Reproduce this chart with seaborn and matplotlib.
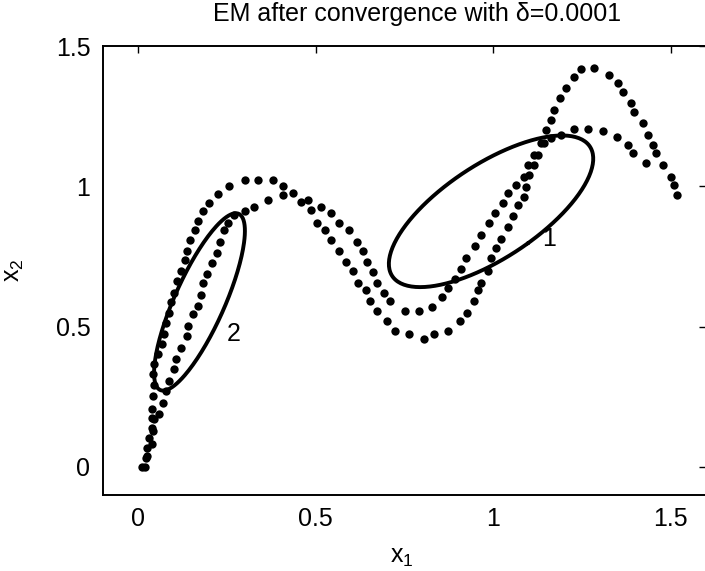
import numpy as np
import matplotlib as mpl
mpl.use('Agg')

import matplotlib.pyplot as plt
import seaborn as sns
import pandas as pd

# dotted data curves
curve1_x = [0.011, 0.020, 0.025, 0.031, 0.037, 0.037, 0.039, 0.042, 0.045, 0.042,
            0.045, 0.056, 0.065, 0.073, 0.079, 0.085, 0.093, 0.101, 0.110, 0.121,
            0.130, 0.138, 0.146, 0.158, 0.169, 0.183, 0.200, 0.225, 0.256, 0.299,
            0.338, 0.380, 0.408, 0.437, 0.479, 0.515, 0.544, 0.566, 0.594, 0.617,
            0.634, 0.645, 0.662, 0.673, 0.693, 0.710, 0.752, 0.792, 0.828, 0.856,
            0.873, 0.893, 0.910, 0.924, 0.949, 0.966, 0.989, 1.006, 1.028, 1.042,
            1.065, 1.087, 1.099, 1.115, 1.135, 1.149, 1.163, 1.172, 1.189, 1.206,
            1.228, 1.248, 1.285, 1.327, 1.352, 1.366, 1.389, 1.397, 1.423, 1.437,
            1.451, 1.459, 1.479, 1.501, 1.510, 1.518]
curve1_y = [0.000, 0.032, 0.068, 0.104, 0.139, 0.175, 0.207, 0.254, 0.293, 0.332,
            0.368, 0.404, 0.439, 0.475, 0.514, 0.550, 0.586, 0.621, 0.661, 0.700,
            0.736, 0.771, 0.807, 0.843, 0.875, 0.911, 0.939, 0.971, 1.000, 1.021,
            1.021, 1.021, 1.000, 0.975, 0.950, 0.925, 0.904, 0.871, 0.843, 0.800,
            0.771, 0.729, 0.693, 0.657, 0.621, 0.593, 0.557, 0.557, 0.571, 0.604,
            0.636, 0.671, 0.707, 0.746, 0.789, 0.825, 0.868, 0.904, 0.939, 0.975,
            1.004, 1.032, 1.075, 1.111, 1.154, 1.200, 1.236, 1.271, 1.314, 1.350,
            1.389, 1.418, 1.421, 1.396, 1.368, 1.336, 1.296, 1.264, 1.225, 1.182,
            1.146, 1.118, 1.075, 1.032, 1.004, 0.968]

curve2_x = [0.017, 0.025, 0.037, 0.042, 0.045, 0.059, 0.070, 0.079, 0.087, 0.099,
            0.107, 0.121, 0.138, 0.141, 0.155, 0.169, 0.175, 0.183, 0.194, 0.206,
            0.220, 0.231, 0.242, 0.251, 0.270, 0.299, 0.327, 0.366, 0.408, 0.459,
            0.487, 0.504, 0.527, 0.544, 0.566, 0.586, 0.606, 0.620, 0.642, 0.654,
            0.673, 0.701, 0.724, 0.763, 0.806, 0.834, 0.873, 0.907, 0.927, 0.946,
            0.958, 0.966, 0.986, 0.994, 1.008, 1.023, 1.042, 1.056, 1.070, 1.087,
            1.093, 1.101, 1.115, 1.127, 1.144, 1.163, 1.192, 1.228, 1.268, 1.310,
            1.349, 1.380, 1.394, 1.431]
curve2_y = [0.000, 0.039, 0.082, 0.129, 0.171, 0.189, 0.229, 0.271, 0.307, 0.350,
            0.386, 0.425, 0.468, 0.504, 0.546, 0.575, 0.611, 0.654, 0.689, 0.725,
            0.761, 0.800, 0.843, 0.871, 0.896, 0.911, 0.925, 0.950, 0.968, 0.943,
            0.914, 0.871, 0.843, 0.807, 0.771, 0.729, 0.700, 0.657, 0.629, 0.593,
            0.557, 0.521, 0.486, 0.475, 0.457, 0.475, 0.486, 0.521, 0.550, 0.593,
            0.629, 0.657, 0.700, 0.743, 0.779, 0.814, 0.854, 0.893, 0.932, 0.961,
            0.996, 1.039, 1.075, 1.111, 1.154, 1.171, 1.182, 1.204, 1.204, 1.196,
            1.175, 1.146, 1.118, 1.082]

# gaussian components after EM (mean, covariance) and their labels
comp_names = ['1', '2']
comp_means = [[0.994, 0.911], [0.172, 0.588]]
comp_covs = [[[0.083, 0.054], [0.054, 0.073]],
             [[0.0164, 0.0324], [0.0324, 0.0999]]]
label_pos = [[1.158, 0.814], [0.268, 0.475]]

x_ticks = [0, 0.5, 1, 1.5]
x_ticklabels = ['0', '0.5', '1', '1.5']
y_ticks = [0, 0.5, 1, 1.5]
y_ticklabels = ['0', '0.5', '1', '1.5']

fontsize = 18


def ellipse_outline(mean, cov, n=200):
    vals, vecs = np.linalg.eigh(np.array(cov))
    t = np.linspace(0, 2 * np.pi, n)
    circle = np.vstack([np.cos(t), np.sin(t)])
    pts = vecs @ (np.sqrt(vals)[:, None] * circle)
    return pd.DataFrame({'x': pts[0] + mean[0], 'y': pts[1] + mean[1]})


def main():
    sns.set_style("white")
    plt.rcParams['font.family'] = ['Liberation Sans', 'DejaVu Sans']
    plt.rcParams['mathtext.fontset'] = 'custom'
    plt.rcParams['mathtext.rm'] = 'Liberation Sans'
    plt.rcParams['text.color'] = 'black'
    plt.rcParams['axes.labelcolor'] = 'black'

    fig = plt.figure(figsize=(7.05, 5.71), dpi=100)
    ax = fig.add_axes([103 / 705, 76 / 571, 603 / 705, 449 / 571])

    pts = pd.concat([pd.DataFrame({'x': curve1_x, 'y': curve1_y, 'curve': 'a'}),
                     pd.DataFrame({'x': curve2_x, 'y': curve2_y, 'curve': 'b'})])
    sns.scatterplot(data=pts, x='x', y='y', color='black', s=36, linewidth=0,
                    ax=ax, legend=False)

    for name, mu, cov, lp in zip(comp_names, comp_means, comp_covs, label_pos):
        ell = ellipse_outline(mu, cov)
        sns.lineplot(data=ell, x='x', y='y', sort=False, estimator=None,
                     color='black', lw=2.8, ax=ax)
        ax.text(lp[0], lp[1], name, fontsize=fontsize, ha='center', va='center',
                color='black')

    ax.set_xlim(-0.1, 1.6)
    ax.set_ylim(-0.1, 1.5)
    ax.set_xticks(x_ticks)
    ax.set_xticklabels(x_ticklabels)
    ax.set_yticks(y_ticks)
    ax.set_yticklabels(y_ticklabels)
    ax.tick_params(direction='in', length=5, width=1, labelsize=fontsize, pad=9,
                   top=True, right=True, colors='black')
    for sp in ax.spines.values():
        sp.set_color('black')
        sp.set_linewidth(1.4)

    ax.set_xlabel(r'$\mathregular{x_1}$', fontsize=fontsize, color='black')
    ax.set_ylabel(r'$\mathregular{x_2}$', fontsize=fontsize, color='black')
    ax.xaxis.set_label_coords(0.495, -0.112)
    ax.yaxis.set_label_coords(-0.128, 0.5)
    fig.text(417 / 705, 1 - 14 / 571, 'EM after convergence with \u03b4=0.0001',
             fontsize=fontsize, ha='center', va='center', color='black')

    plt.savefig('out.png', format='png', dpi=100)
    plt.close()


if __name__ == "__main__":
    main()
